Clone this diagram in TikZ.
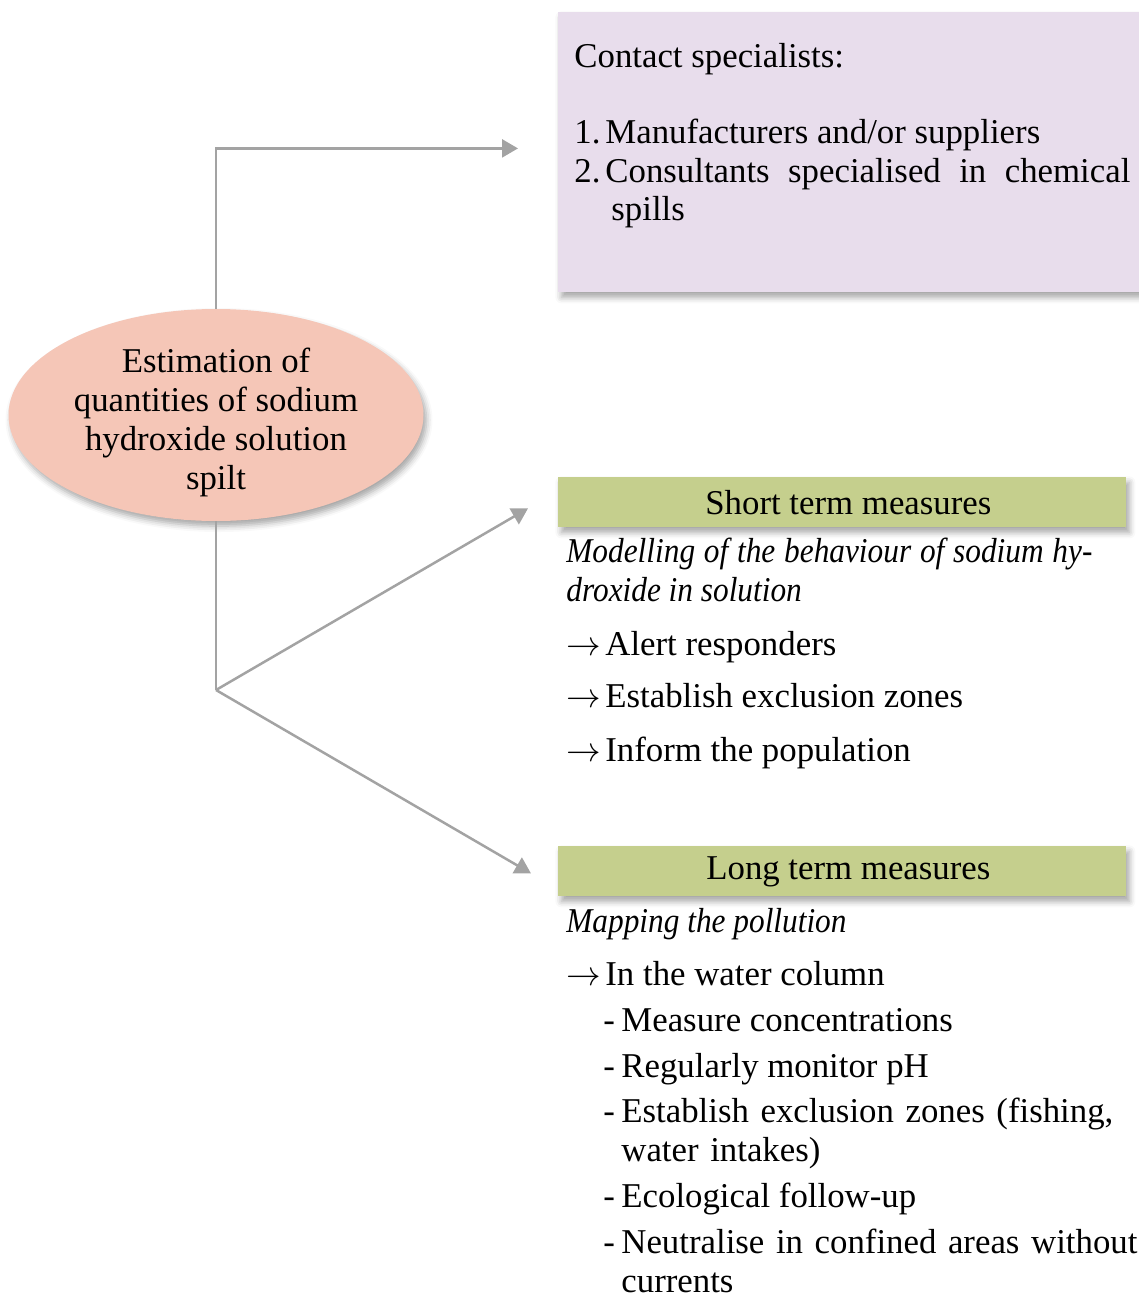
\documentclass[tikz,border=0pt]{standalone}
\usepackage{fontspec}
\setmainfont{Liberation Serif}[ItalicFeatures={FakeStretch=0.9}]
\usetikzlibrary{shapes.geometric,arrows.meta,positioning,shadows.blur}
\definecolor{contactbg}{HTML}{E8DDEC}
\definecolor{spillbg}{HTML}{F5C6B7}
\definecolor{headbg}{HTML}{C5CF8D}
\definecolor{linkgray}{HTML}{A3A3A3}
\newcommand{\bodyfont}{\fontsize{17.4}{19.5}\selectfont}
\newcommand{\arr}{\makebox[19.5pt][l]{$\rightarrow$}}

\begin{document}
\begin{tikzpicture}[x=0.5pt, y=-0.5pt,
  every node/.style={font=\bodyfont, inner sep=0pt},
  shadowed/.style={blur shadow={shadow xshift=1.5pt, shadow yshift=-2.5pt,
    shadow blur radius=3pt, shadow opacity=35}},
  spill/.style={ellipse, fill=spillbg, shadowed,
    minimum width=207.5pt, minimum height=106pt},
  contact/.style={rectangle, fill=contactbg, shadowed, anchor=north west,
    minimum width=301pt, minimum height=140pt},
  header/.style={rectangle, fill=headbg, shadowed, anchor=north west,
    minimum width=284pt, minimum height=25pt},
  txt/.style={anchor=base west},
  para/.style={anchor=base west, text width=#1, align=justify},
  lines/.style={anchor=base west, text width=#1, align=left},
  conn/.style={draw=linkgray, line width=1.25pt, -{Triangle[length=8pt,width=9pt]}},
  link/.style={draw=linkgray, line width=1.25pt}
]
\useasboundingbox (0,0) rectangle (1139,1295);

% contact box
\node[contact] (contact) at (558,12) {};
\node[txt] (contacthead) at (574,68) {Contact specialists:};
\node[txt] (num1) at (574,143) {1.};
\node[txt] (item1) at (605,143) {Manufacturers and/or suppliers};
\node[txt] (num2) at (574,182) {2.};
\node[para=262.5pt] (item2) at (605,182) {Consultants specialised in chemical\linebreak \hspace*{3pt}spills};

% spill estimate
\node[spill] (spill) at (216,415) {};
\node[align=center] (spilltext) at (216,422) {Estimation of\\quantities of sodium\\hydroxide solution\\spilt};
\coordinate (fork) at (216,690);

% headers
\node[header] (short) at (558,477) {\hspace*{6pt}Short term measures};
\node[header] (long) at (558,846) {\hspace*{6pt}Long term measures};

% connectors
\draw[conn] (spill.north) |- ([xshift=-20pt,yshift=2pt]contact.west);
\draw[link] (spill.south) -- (fork);
\draw[conn] (fork) -- ([xshift=-15pt,yshift=-3pt]short.west);
\draw[conn] (fork) -- ([xshift=-13.5pt,yshift=-1pt]long.west);

% short term
\node[para=263pt, font=\bodyfont\itshape] (model) at (566,562)
  {Modelling of the behaviour of sodium hy-\linebreak droxide in solution};
\node[txt] (alert) at (566,655) {\arr Alert responders};
\node[txt] (zones) at (566,707) {\arr Establish exclusion zones};
\node[txt] (inform) at (566,761) {\arr Inform the population};

% long term
\node[txt, font=\bodyfont\itshape] (mapping) at (566,932) {Mapping the pollution};
\node[txt] (column) at (566,985) {\arr In the water column};
\node[txt] (dash1) at (603,1031) {-};
\node[txt] (sub1) at (621,1031) {Measure concentrations};
\node[txt] (dash2) at (603,1077) {-};
\node[txt] (sub2) at (621,1077) {Regularly monitor pH};
\node[txt] (dash3) at (603,1122) {-};
\node[lines=270pt] (sub3) at (621,1122) {Establish exclusion zones (fishing,\\water intakes)};
\node[txt] (dash4) at (603,1207) {-};
\node[txt] (sub4) at (621,1207) {Ecological follow-up};
\node[txt] (dash5) at (603,1253) {-};
\node[lines=270pt] (sub5) at (621,1253) {Neutralise in confined areas without\\currents};
\end{tikzpicture}
\end{document}
